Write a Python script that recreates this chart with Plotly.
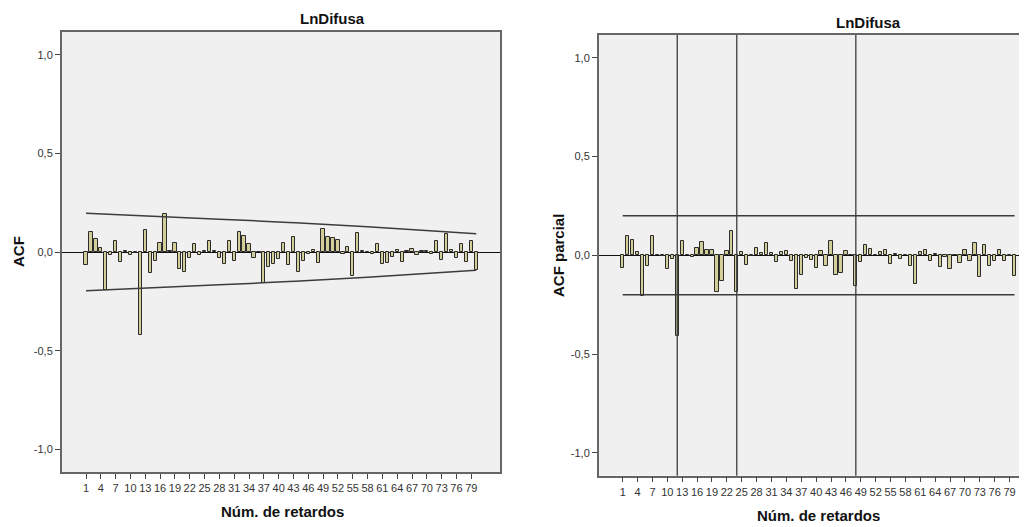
import plotly.graph_objects as go

# ---------------- data ----------------
lags = list(range(1, 81))

acf_values = [
    -0.066, 0.103, 0.064, 0.019, -0.193, -0.017, 0.054, -0.049, 0.007, -0.014,
    -0.004, -0.421, 0.113, -0.105, -0.047, 0.044, 0.193, 0.005, 0.044, -0.085,
    -0.103, -0.029, 0.039, -0.015, 0.003, 0.058, 0.003, -0.029, -0.061, 0.058,
    -0.047, 0.100, 0.081, 0.041, -0.032, 0.002, -0.156, -0.076, -0.061, -0.037,
    0.047, -0.066, 0.074, -0.100, -0.046, -0.012, 0.010, -0.054, 0.115, 0.074,
    0.069, 0.059, -0.012, 0.025, -0.124, 0.095, 0.007, 0.002, -0.012, 0.039,
    -0.061, -0.058, -0.024, 0.010, -0.051, 0.003, 0.017, -0.017, 0.007, 0.007,
    -0.012, 0.056, -0.041, 0.091, 0.010, -0.030, 0.041, -0.049, 0.056, -0.091,
]

pacf_values = [
    -0.065, 0.097, 0.077, 0.018, -0.208, -0.054, 0.097, 0.003, -0.003, -0.067,
    -0.020, -0.409, 0.075, 0.003, -0.008, 0.037, 0.067, 0.025, 0.028, -0.183,
    -0.132, 0.022, 0.121, -0.184, 0.017, -0.050, -0.002, 0.037, 0.013, 0.064,
    0.013, -0.034, 0.017, 0.022, -0.028, -0.171, -0.099, -0.012, -0.025, -0.065,
    0.023, -0.054, 0.072, -0.101, -0.089, 0.023, 0.002, -0.154, -0.032, 0.052,
    0.034, 0.003, 0.017, 0.028, -0.044, 0.005, -0.017, 0.003, -0.055, -0.147,
    0.015, 0.028, -0.028, 0.008, -0.059, -0.007, -0.070, 0.003, -0.037, 0.025,
    -0.028, 0.060, -0.112, 0.050, -0.054, -0.028, 0.028, -0.030, -0.003, -0.104,
]

# confidence limits
acf_ci_lags = [1, 28, 42, 58, 80]
acf_ci_upper = [0.196, 0.166, 0.150, 0.128, 0.093]
acf_ci_lower = [-v for v in acf_ci_upper]
pacf_ci_lags = [1, 80]
pacf_ci_upper = [0.20, 0.20]
pacf_ci_lower = [-0.20, -0.20]
pacf_ref_lags = [12, 24, 48]

x_tickvals = list(range(1, 80, 3))
y_tickvals = [-1.0, -0.5, 0.0, 0.5, 1.0]
y_ticktext = ["-1,0", "-0,5", "0,0", "0,5", "1,0"]

series_title = "LnDifusa"
x_title = "Núm. de retardos"
acf_title = "ACF"
pacf_title = "ACF parcial"

# ---------------- figure ----------------
# the page body keeps an 8 px margin, so the figure is laid out in a
# slightly smaller box and all page-pixel positions are shifted by OFF
OFF = 8
W, H = 1027 - OFF, 527 - OFF
FONT = "Liberation Sans, Arial, sans-serif"
BAR_FILL = "#d2ce9a"
BAR_EDGE = "#2b2b2b"
LINE_COL = "#3c3c3c"

fig = go.Figure()

fig.add_trace(go.Bar(x=lags, y=acf_values, width=0.66,
                     marker=dict(color=BAR_FILL, line=dict(color=BAR_EDGE, width=1)),
                     xaxis="x", yaxis="y", showlegend=False))
fig.add_trace(go.Scatter(x=acf_ci_lags, y=acf_ci_upper, mode="lines",
                         line=dict(color=LINE_COL, width=1.5, shape="spline"),
                         xaxis="x", yaxis="y", showlegend=False))
fig.add_trace(go.Scatter(x=acf_ci_lags, y=acf_ci_lower, mode="lines",
                         line=dict(color=LINE_COL, width=1.5, shape="spline"),
                         xaxis="x", yaxis="y", showlegend=False))

fig.add_trace(go.Bar(x=lags, y=pacf_values, width=0.66,
                     marker=dict(color=BAR_FILL, line=dict(color=BAR_EDGE, width=1)),
                     xaxis="x2", yaxis="y2", showlegend=False))
fig.add_trace(go.Scatter(x=pacf_ci_lags, y=pacf_ci_upper, mode="lines",
                         line=dict(color=LINE_COL, width=1.5),
                         xaxis="x2", yaxis="y2", showlegend=False))
fig.add_trace(go.Scatter(x=pacf_ci_lags, y=pacf_ci_lower, mode="lines",
                         line=dict(color=LINE_COL, width=1.5),
                         xaxis="x2", yaxis="y2", showlegend=False))

shapes = []
for lg in pacf_ref_lags:
    shapes.append(dict(type="line", xref="x2", yref="y2 domain",
                       x0=lg, x1=lg, y0=0, y1=1,
                       line=dict(color=LINE_COL, width=1.3), layer="above"))


def px_x(p):
    return (p - OFF) / W


def px_y(p):
    return 1 - (p - OFF) / H


common_x = dict(tickvals=x_tickvals, ticks="outside", ticklen=5, tickwidth=1,
                tickcolor="#444", showline=True, linecolor="#666", linewidth=1.5,
                showgrid=False, zeroline=False,
                tickfont=dict(family=FONT, size=11, color="#333"))
common_y = dict(tickvals=y_tickvals, ticktext=y_ticktext, range=[-1.115, 1.115],
                ticks="outside", ticklen=5, tickwidth=1, tickcolor="#444",
                showline=True, linecolor="#666", linewidth=2, showgrid=False,
                zeroline=True, zerolinecolor="#111", zerolinewidth=1,
                tickfont=dict(family=FONT, size=11, color="#333"))

fig.update_layout(
    width=W, height=H,
    margin=dict(l=0, r=0, t=0, b=0),
    paper_bgcolor="white", plot_bgcolor="#f0f0f0",
    bargap=0,
    xaxis=dict(domain=[px_x(62), px_x(500)], range=[-3.858, 84.81],
               anchor="y", mirror=True, **common_x),
    yaxis=dict(domain=[px_y(472), px_y(32)], anchor="x", mirror=True, **common_y),
    xaxis2=dict(domain=[px_x(599), 1.0], range=[-3.778, 82.51],
                anchor="y2", mirror=True, **common_x),
    yaxis2=dict(domain=[px_y(475.7), px_y(35)], anchor="x2", mirror=False, **common_y),
    shapes=shapes,
    annotations=[
        dict(text="<b>%s</b>" % series_title, x=px_x(332), y=px_y(19), xref="paper", yref="paper",
             showarrow=False, xanchor="center", yanchor="middle",
             font=dict(family=FONT, size=15, color="#111")),
        dict(text="<b>%s</b>" % series_title, x=px_x(868), y=px_y(22), xref="paper", yref="paper",
             showarrow=False, xanchor="center", yanchor="middle",
             font=dict(family=FONT, size=15, color="#111")),
        dict(text="<b>%s</b>" % x_title, x=px_x(282), y=px_y(511), xref="paper", yref="paper",
             showarrow=False, xanchor="center", yanchor="middle",
             font=dict(family=FONT, size=15, color="#111")),
        dict(text="<b>%s</b>" % x_title, x=px_x(818), y=px_y(515), xref="paper", yref="paper",
             showarrow=False, xanchor="center", yanchor="middle",
             font=dict(family=FONT, size=15, color="#111")),
        dict(text="<b>%s</b>" % acf_title, x=px_x(18), y=px_y(252), xref="paper", yref="paper",
             showarrow=False, xanchor="center", yanchor="middle", textangle=-90,
             font=dict(family=FONT, size=15, color="#111")),
        dict(text="<b>%s</b>" % pacf_title, x=px_x(558), y=px_y(256), xref="paper", yref="paper",
             showarrow=False, xanchor="center", yanchor="middle", textangle=-90,
             font=dict(family=FONT, size=15, color="#111")),
    ],
)

fig.write_html("out.html")
